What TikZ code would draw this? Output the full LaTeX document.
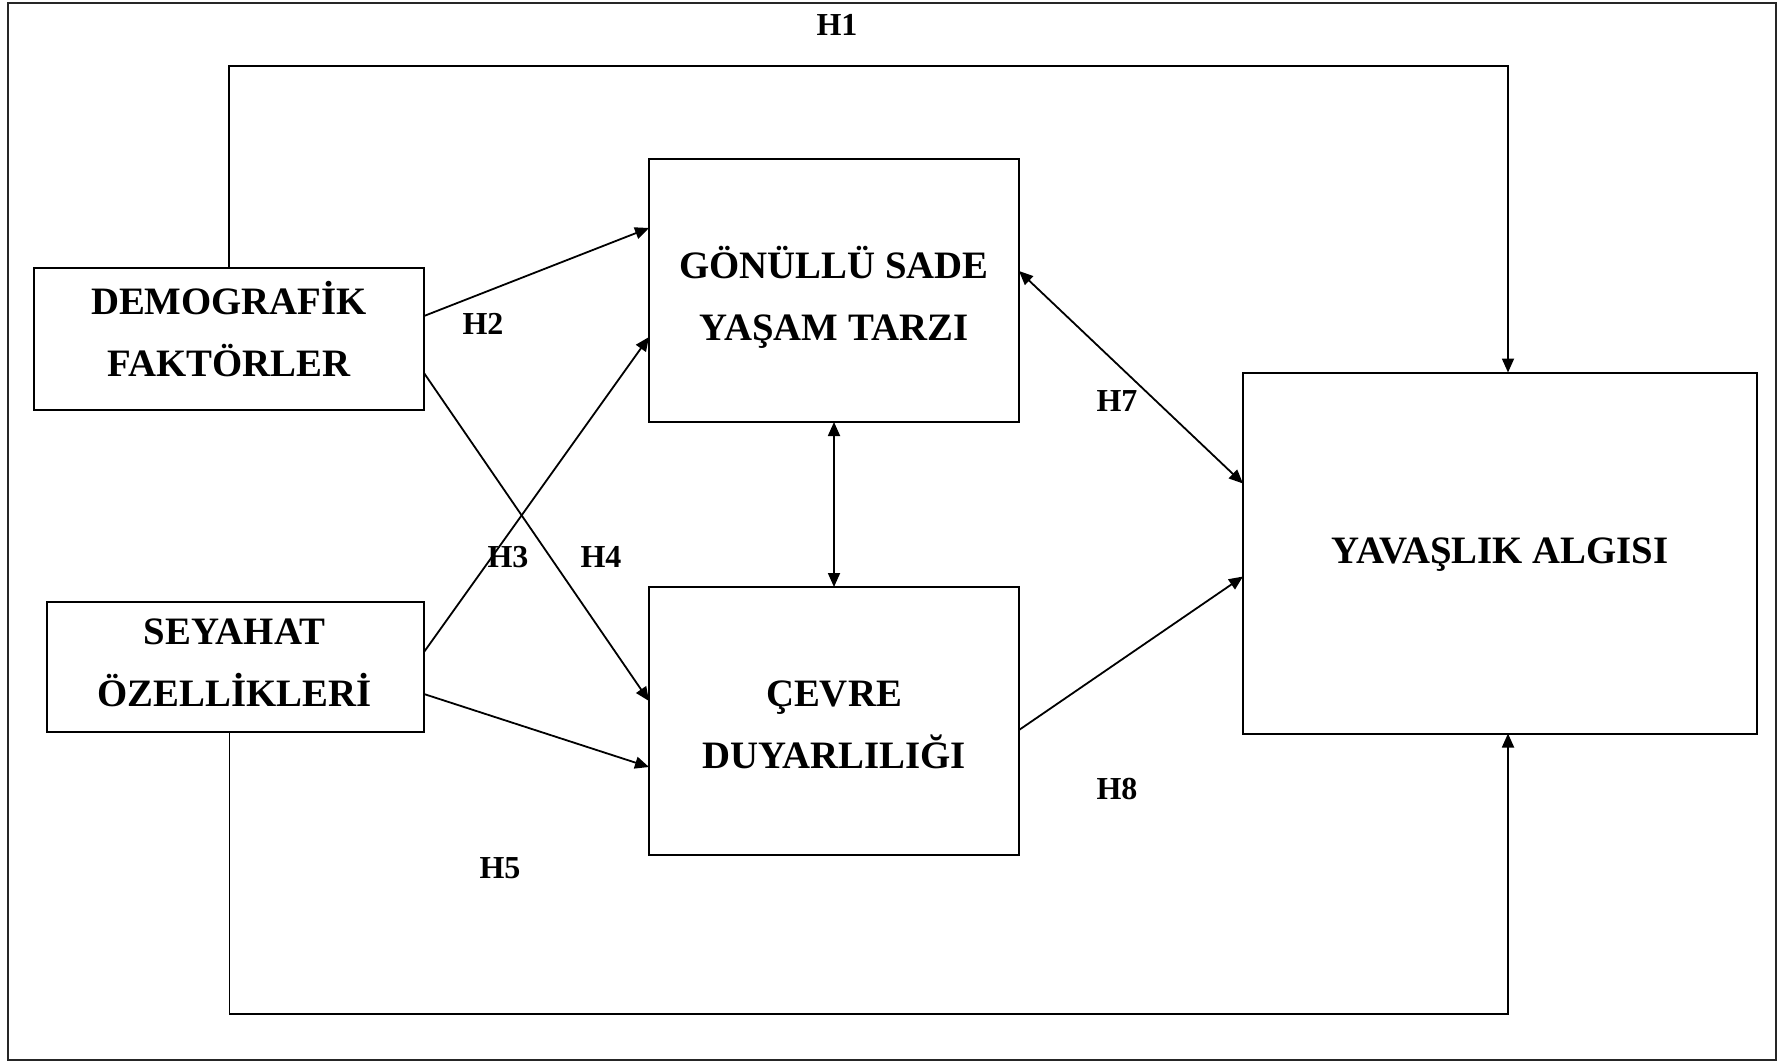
\documentclass[tikz,border=0pt]{standalone}
\usepackage{fontspec}
\setmainfont{Liberation Serif}
\usetikzlibrary{arrows.meta,calc}
\begin{document}
\begin{tikzpicture}[x=0.5pt,y=-0.5pt,
  box/.style={draw,line width=1pt,inner sep=0pt,outer sep=0pt},
  boxtext/.style={inner sep=0pt,align=center,
    font=\fontsize{19.4pt}{31pt}\selectfont\bfseries},
  hlab/.style={inner sep=0pt,font=\fontsize{16pt}{18pt}\selectfont\bfseries},
  arr/.style={line width=0.9pt,-{Triangle[length=7pt,width=6pt]}},
  darr/.style={line width=0.9pt,{Triangle[length=7pt,width=6pt]}-{Triangle[length=7pt,width=6pt]}}]
\useasboundingbox (0,0) rectangle (1778,1062);
\draw[line width=1.2pt,black!85] (8,3) rectangle (1776,1060);

\node[box,minimum width=195pt,minimum height=71pt] (demo) at (229,339) {};
\node[box,minimum width=188.5pt,minimum height=65pt] (sey) at (235.5,667) {};
\node[box,minimum width=185pt,minimum height=131.5pt] (gon) at (834,290.5) {};
\node[box,minimum width=185pt,minimum height=134pt] (cev) at (834,721) {};
\node[box,minimum width=257pt,minimum height=180.5pt] (yav) at (1500,553) {};

\node[boxtext] (demotext) at ($(demo)+(0,-10)$) {DEMOGRAF\.{I}K\\FAKTÖRLER};
\node[boxtext] (seytext) at ($(sey)+(-1,-4)$) {SEYAHAT\\ÖZELL\.{I}KLER\.{I}};
\node[boxtext] (gontext) at ($(gon)+(0,7)$) {GÖNÜLLÜ SADE\\YAŞAM TARZI};
\node[boxtext] (cevtext) at ($(cev)+(0,4)$) {ÇEVRE\\DUYARLILIĞI};
\node[boxtext] (yavtext) at ($(yav)+(0,2)$) {YAVAŞLIK ALGISI};

\coordinate (topy) at (0,66);
\coordinate (boty) at (0,1014);
\coordinate (yavtop) at ($(yav.north)+(8,0)$);
\coordinate (yavbot) at ($(yav.south)+(8,0)$);
\coordinate (seybot) at ($(sey.south)+(-6,0)$);

% H1
\draw[arr] (demo.north) -- (demo.north |- topy) -| (yavtop);
% H5
\draw[arr] (seybot) -- (seybot |- boty) -| (yavbot);
% H2
\draw[arr] ($(demo.north east)+(0,48)$) -- ($(gon.north west)+(0,69)$);
% H3
\draw[arr] ($(sey.north east)+(0,50)$) -- ($(gon.north west)+(0,178)$);
% H4
\draw[arr] ($(demo.north east)+(0,105)$) -- ($(cev.north west)+(0,114)$);
% Seyahat -> Cevre
\draw[arr] ($(sey.north east)+(0,92)$) -- ($(cev.north west)+(0,180)$);
% Gonullu <-> Cevre
\draw[darr] (gon.south) -- (cev.north);
% H7
\draw[darr] ($(gon.north east)+(0,112)$) -- ($(yav.north west)+(0,111)$);
% H8
\draw[arr] ($(cev.north east)+(0,143)$) -- ($(yav.north west)+(0,204)$);

\node[hlab] (h1) at (837,25) {H1};
\node[hlab] (h2) at (483,324) {H2};
\node[hlab] (h3) at (508,557) {H3};
\node[hlab] (h4) at (601,557) {H4};
\node[hlab] (h5) at (500,868) {H5};
\node[hlab] (h7) at (1117,401) {H7};
\node[hlab] (h8) at (1117,789) {H8};
\end{tikzpicture}
\end{document}
